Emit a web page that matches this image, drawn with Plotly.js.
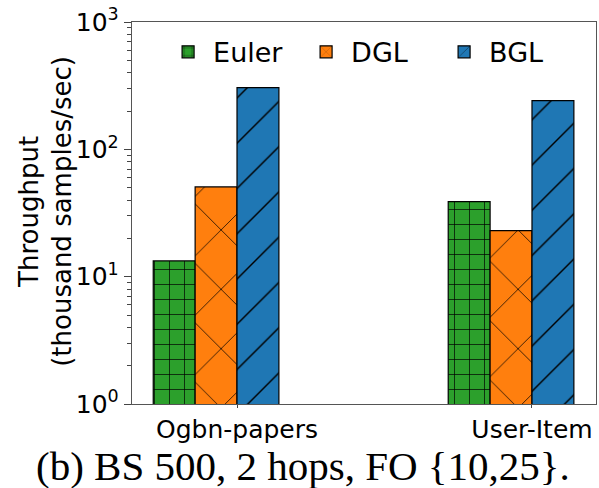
<!DOCTYPE html>
<html><head><meta charset="utf-8">
<script src="https://cdn.plot.ly/plotly-3.0.1.min.js"></script>
<style>body{margin:0;background:#fff}</style>
</head><body><div id="chart" style="width:599px;height:488px"></div>
<script>
const categories = ["Ogbn-papers", "User-Item"];
const seriesNames = ["Euler", "DGL", "BGL"];
const euler = [13.3, 38.8];
const dgl = [50.7, 23.0];
const bgl = [305, 241];
const yTickVals = [1, 10, 100, 1000];
const yTickText = ["10<sup>0</sup>", "10<sup>1</sup>", "10<sup>2</sup>", "10<sup>3</sup>"];
const yMinorTicks = [2, 3, 4, 5, 6, 7, 8, 9, 20, 30, 40, 50, 60, 70, 80, 90, 200, 300, 400, 500, 600, 700, 800, 900];
const yTitle = "Throughput<br>(thousand samples/sec)";
const caption = "(b) BS 500, 2 hops, FO {10,25}.";

const colors = ["#2ca02c", "#ff7f0e", "#1f77b4"];
const shapes = ["+", "x", "/"];
const sizes = [15, 42, 32];
const solid = [0.09, 0.035, 0.045];
const values = [euler, dgl, bgl];
const w = 0.142;
const xs = categories.map((c, i) => i);

const traces = values.map((v, k) => ({
  type: "bar",
  name: seriesNames[k],
  x: xs,
  y: v,
  width: w,
  offset: (k - 2) * w,
  marker: {
    color: colors[k],
    line: {color: "#000", width: 1.2},
    pattern: {shape: shapes[k], fgcolor: "#000", bgcolor: colors[k], size: sizes[k], solidity: solid[k], fillmode: "replace"}
  }
}));

const layout = {
  width: 599, height: 488,
  margin: {l: 132, r: 3, t: 22, b: 84},
  paper_bgcolor: "#fff", plot_bgcolor: "#fff",
  font: {family: "DejaVu Sans, sans-serif", color: "#000"},
  showlegend: true,
  barmode: "overlay",
  legend: {orientation: "h", x: 0.067, y: 0.985, xanchor: "left", yanchor: "top",
    font: {size: 27}, bgcolor: "rgba(255,255,255,0)", traceorder: "normal",
    itemwidth: 40, entrywidth: 83, entrywidthmode: "pixels"},
  xaxis: {
    range: [-0.356, 1.217],
    tickvals: xs, ticktext: categories,
    tickfont: {size: 25},
    ticks: "outside", ticklen: 3, tickcolor: "#444",
    showline: true, linecolor: "#555", linewidth: 1.3, mirror: true,
    showgrid: false, zeroline: false
  },
  yaxis: {
    type: "log", range: [0, 3],
    tickvals: yTickVals, ticktext: yTickText,
    tickfont: {size: 25},
    ticks: "outside", ticklen: 7, tickcolor: "#444",
    minor: {tickvals: yMinorTicks, ticks: "outside", ticklen: 4, tickcolor: "#444", showgrid: false},
    showline: true, linecolor: "#555", linewidth: 1.3, mirror: true,
    showgrid: false, zeroline: false
  },
  annotations: [{
    text: yTitle,
    xref: "paper", yref: "paper", x: -0.186, y: 0.505,
    xanchor: "center", yanchor: "middle", textangle: -90, showarrow: false,
    font: {size: 26, color: "#000"}
  }, {
    text: caption,
    xref: "paper", yref: "paper", x: 0.3685, y: -0.163,
    xanchor: "center", yanchor: "middle", showarrow: false,
    font: {family: "Liberation Serif, serif", size: 41, color: "#000"}
  }]
};

Plotly.newPlot("chart", traces, layout, {displayModeBar: false, staticPlot: true});
</script></body></html>
